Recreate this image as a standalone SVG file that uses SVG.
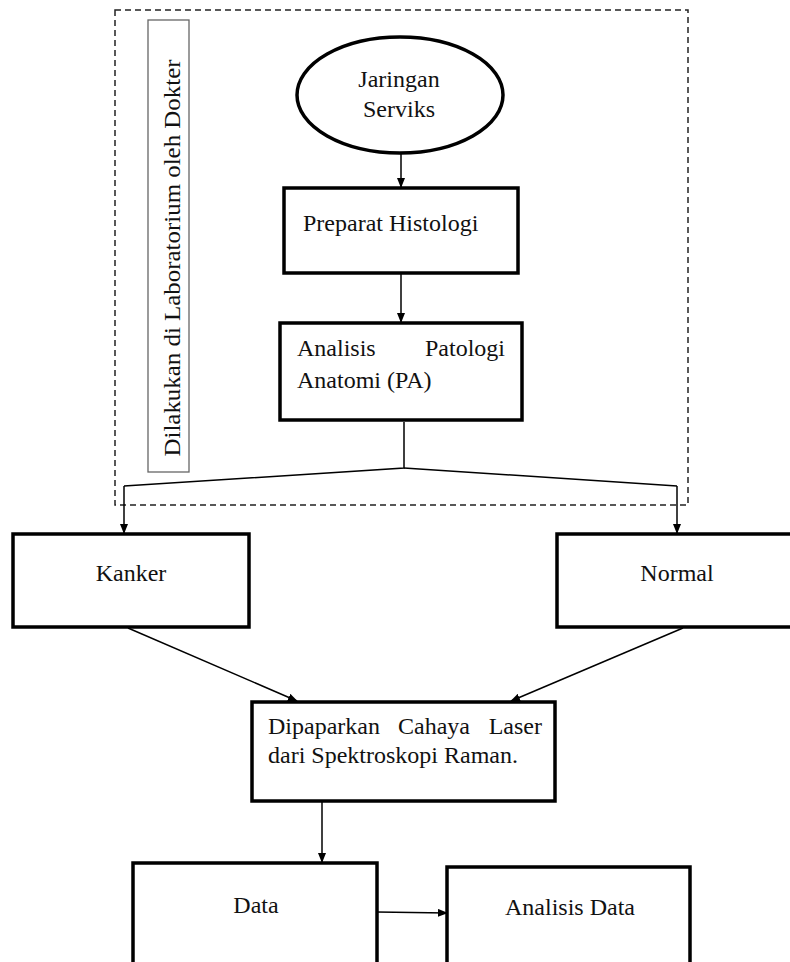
<svg xmlns="http://www.w3.org/2000/svg" width="790" height="962" viewBox="0 0 790 962">
<defs>
<marker id="ah" markerWidth="10" markerHeight="8" refX="9" refY="4" orient="auto" markerUnits="userSpaceOnUse">
<path d="M0,0 L10,4 L0,8 z" fill="#000"/>
</marker>
<style>
.box{fill:#fff;stroke:#000;stroke-width:3.5}
.t{font-family:"Liberation Serif","Times New Roman",serif;font-size:24px;fill:#111}
.c{fill:none;stroke:#000;stroke-width:1.5}
.ca{fill:none;stroke:#000;stroke-width:1.5;marker-end:url(#ah)}
</style>
</defs>
<rect width="790" height="962" fill="#fff"/>
<g id="lab-area">
<rect x="115" y="10" width="573" height="495" fill="none" stroke="#222" stroke-width="1.5" stroke-dasharray="6,4"/>
</g>
<g id="label">
<rect x="148" y="20" width="41" height="452" fill="#fff" stroke="#666" stroke-width="1.3"/>
<text class="t" x="0" y="0" transform="translate(180,258) rotate(-90)" text-anchor="middle" textLength="397" lengthAdjust="spacingAndGlyphs">Dilakukan di Laboratorium oleh Dokter</text>
</g>
<g id="connectors">
<line class="ca" x1="401" y1="153" x2="401" y2="187"/>
<line class="ca" x1="401" y1="274" x2="401" y2="322"/>
<polyline class="c" points="404,422 404,468 124,486"/>
<polyline class="c" points="404,468 677,486"/>
<line class="ca" x1="124" y1="486" x2="124" y2="533"/>
<line class="ca" x1="677" y1="486" x2="677" y2="533"/>
<line class="ca" x1="128" y1="628" x2="297" y2="701"/>
<line class="ca" x1="683" y1="628" x2="511" y2="701"/>
<line class="ca" x1="322" y1="802" x2="322" y2="862"/>
<line class="ca" x1="377" y1="912" x2="447" y2="913"/>
</g>
<g id="jaringan">
<ellipse cx="400" cy="95" rx="103" ry="58" fill="#fff" stroke="#000" stroke-width="3.5"/>
<text class="t" x="399" y="87" text-anchor="middle">Jaringan</text>
<text class="t" x="399" y="117" text-anchor="middle">Serviks</text>
</g>
<g id="preparat">
<rect class="box" x="284" y="188" width="234" height="85"/>
<text class="t" x="303" y="231">Preparat Histologi</text>
</g>
<g id="analisis-pa">
<rect class="box" x="280" y="323" width="242" height="97"/>
<text class="t" x="297" y="356">Analisis</text>
<text class="t" x="505" y="356" text-anchor="end">Patologi</text>
<text class="t" x="297" y="388">Anatomi (PA)</text>
</g>
<g id="kanker">
<rect class="box" x="13" y="534" width="236" height="93"/>
<text class="t" x="131" y="581" text-anchor="middle">Kanker</text>
</g>
<g id="normal">
<rect class="box" x="557" y="534" width="250" height="93"/>
<text class="t" x="677" y="581" text-anchor="middle">Normal</text>
</g>
<g id="dipaparkan">
<rect class="box" x="252" y="702" width="303" height="99"/>
<text class="t" x="268" y="734">Dipaparkan</text>
<text class="t" x="398" y="734">Cahaya</text>
<text class="t" x="542" y="734" text-anchor="end">Laser</text>
<text class="t" x="268" y="763">dari Spektroskopi Raman.</text>
</g>
<g id="data">
<rect class="box" x="133" y="863" width="244" height="110"/>
<text class="t" x="256" y="913" text-anchor="middle">Data</text>
</g>
<g id="analisis-data">
<rect class="box" x="447" y="867" width="243" height="110"/>
<text class="t" x="570" y="915" text-anchor="middle">Analisis Data</text>
</g>
</svg>
